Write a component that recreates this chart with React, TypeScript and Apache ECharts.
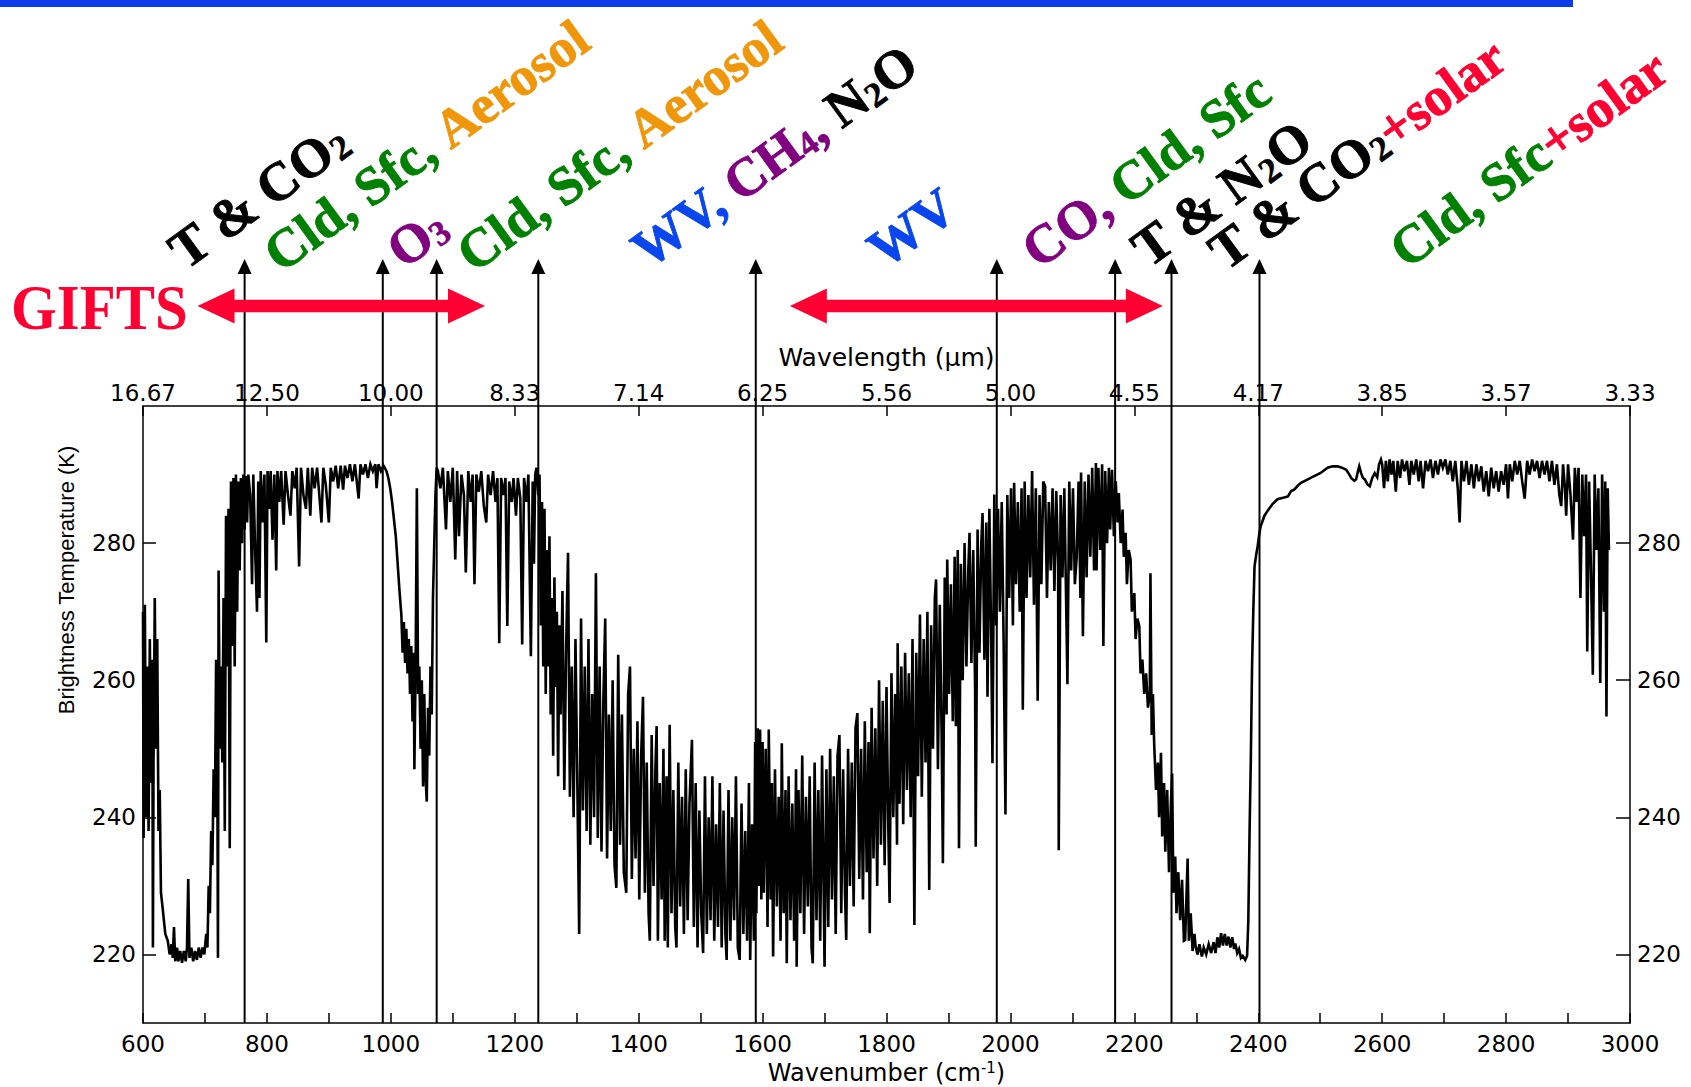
import React, { useEffect, useRef } from "react";
import * as echarts from "echarts";

// ---------- spectrum: [wavenumber (cm-1), brightness temperature (K)] ----------
const farCo2Band = [
  [600, 270], [601, 237], [603, 271], [605, 240], [607, 262], [609, 238], [611, 266], [613, 245], [615, 263], [616, 221],
  [617, 248], [619, 272], [621, 250], [623, 266], [625, 238], [627, 244], [629, 229], [632, 226.5], [636, 223], [640, 222],
  [643, 220], [646, 221.5], [648, 219.5], [650, 224], [652, 219], [655, 221], [657, 219], [660, 220.5], [663, 218.8], [666, 220.5],
  [669, 219], [671, 221], [673, 231], [675, 219.5], [678, 221], [681, 219], [684, 220.5], [687, 219.2], [690, 221], [693, 219.5],
  [696, 221], [699, 220],
];
const co2BandEdge = [
  [702, 223], [704, 221], [706, 230], [708, 226], [710, 238], [712, 233], [714, 247], [716, 240], [718, 263], [720, 246],
  [721, 219.5], [722, 276], [724, 250], [726, 262], [728, 248], [730, 272], [732, 238], [734, 284], [736, 262], [738, 285],
  [740, 235.5], [742, 289], [744, 265], [746, 289.5], [748, 262], [750, 290], [752, 270], [754, 289], [756, 276], [758, 289.5],
  [760, 280], [762, 290], [764, 282], [766, 289.8], [768, 283],
];
const longwaveWindow = [
  [770, 290], [773, 287], [776, 274], [778, 290], [781, 279], [784, 270], [786, 289], [788, 272], [790, 290.5], [793, 283],
  [796, 290], [799, 265.5], [801, 290.5], [804, 285], [806, 290.5], [809, 280.5], [812, 290], [815, 276], [817, 290.5], [820, 286],
  [823, 290.5], [827, 282.7], [830, 290.5], [834, 287], [838, 284], [841, 290.5], [845, 288], [848, 291], [852, 276.6], [855, 291],
  [859, 287], [863, 285], [866, 291], [870, 284], [873, 291], [877, 288], [881, 291], [885, 286.5], [888, 283], [891, 291],
  [895, 288.5], [900, 283], [903, 291], [907, 289], [911, 291.3], [915, 288], [919, 291.3], [923, 287.8], [926, 291.3], [930, 289.5],
  [934, 291.5], [938, 289], [942, 291.5], [948, 286.5], [951, 291.5], [955, 290], [959, 291.5], [963, 289.5], [967, 291.5], [971, 290.5],
  [975, 291.5], [977, 288], [980, 291.5], [984, 290.5], [988, 291.3],
];
const ozoneBand = [
  [990, 291], [993, 290.5], [996, 289.5], [999, 288], [1002, 286], [1005, 283.5], [1008, 281], [1011, 277], [1014, 273], [1017, 269.5],
  [1019, 264], [1021, 268.5], [1023, 262.5], [1025, 267.5], [1027, 261], [1029, 266], [1031, 258], [1033, 265], [1035, 254], [1037, 264],
  [1038, 247], [1040, 262], [1042, 288], [1044, 258], [1046, 262], [1048, 250], [1050, 260], [1052, 244.5], [1054, 258], [1056, 246],
  [1058, 242.3], [1060, 256], [1062, 249], [1064, 262], [1066, 255], [1068, 272], [1070, 279.5], [1072, 287], [1074, 291],
];
const secondWindow = [
  [1076, 290.5], [1080, 288], [1084, 291], [1089, 282], [1092, 290.5], [1096, 286], [1100, 291], [1104, 277.6], [1107, 290.5], [1110, 281],
  [1114, 290], [1118, 287], [1121, 275.7], [1125, 290.5], [1129, 286], [1132, 290], [1135, 274], [1138, 290], [1142, 287.5], [1146, 290.5],
  [1150, 285.5], [1154, 283], [1157, 290], [1161, 287], [1165, 290.5], [1169, 286], [1172, 289.5], [1175, 265.4], [1178, 289.5], [1182, 287],
  [1185, 289.5], [1188, 267.9], [1191, 289], [1195, 286], [1198, 289.5], [1202, 284], [1205, 289.5], [1209, 286.5], [1212, 265.2], [1215, 289.5],
  [1219, 286], [1222, 290], [1226, 263.5], [1229, 289], [1231, 277], [1233, 290], [1235, 291], [1238, 287],
];
const waterVaporLow = [
  [1240, 290], [1242, 268], [1244, 286], [1246, 262], [1248, 285], [1250, 258], [1252, 279], [1254, 262], [1256, 281], [1258, 255],
  [1260, 272], [1262, 249], [1264, 275], [1266, 259], [1268, 270], [1270, 246], [1272, 268], [1274, 255], [1277, 273], [1280, 244],
  [1283, 265], [1286, 278.6], [1289, 243], [1292, 262], [1295, 240], [1298, 266], [1301, 245], [1304, 223], [1307, 269], [1310, 241],
  [1313, 262], [1316, 238], [1319, 266], [1322, 236], [1325, 258], [1328, 240], [1331, 275.6], [1334, 237], [1337, 262], [1340, 235],
  [1343, 257], [1346, 269], [1349, 234], [1352, 255], [1355, 238], [1358, 260], [1361, 233], [1364, 229.7], [1367, 263.7], [1370, 236],
  [1373, 255], [1376, 232], [1380, 229], [1383, 258], [1386, 262], [1389, 231], [1392, 250], [1395, 234], [1398, 254], [1401, 228],
  [1404, 249], [1407, 257.6], [1410, 229], [1413, 248], [1416, 226], [1418, 222], [1421, 252], [1424, 230], [1427, 247], [1429, 253.3],
  [1431, 222], [1434, 245], [1437, 228], [1440, 250], [1442, 222], [1445, 246], [1447, 221], [1450, 253.5], [1453, 226], [1456, 244],
  [1459, 224], [1461, 221], [1464, 248], [1467, 227], [1470, 243], [1473, 223], [1476, 247], [1479, 225], [1482, 242], [1486, 251.3],
  [1489, 224], [1492, 245], [1495, 221], [1498, 241], [1501, 226], [1504, 220.2], [1507, 246], [1510, 223], [1513, 240], [1516, 225],
  [1519, 246], [1522, 222], [1525, 239], [1528, 224], [1531, 245], [1534, 221], [1537, 241], [1540, 223], [1542, 219.2], [1545, 244],
  [1548, 222], [1551, 240], [1554, 225], [1557, 246], [1560, 221], [1563, 219.2], [1566, 242], [1569, 223], [1572, 238], [1575, 222],
  [1578, 245], [1580, 219.2], [1583, 239], [1586, 222], [1588, 251], [1590, 226], [1592, 253], [1594, 230], [1596, 252.8], [1598, 228],
  [1600, 251],
];
const waterVaporMid = [
  [1602, 229], [1605, 250], [1608, 224], [1610, 252.8], [1613, 228], [1615, 245], [1617, 219.7], [1620, 247], [1623, 227], [1626, 243],
  [1629, 222], [1631, 250.8], [1634, 226], [1637, 244], [1639, 218.7], [1642, 246], [1645, 225], [1648, 242], [1651, 222], [1654, 247],
  [1655, 218.2], [1658, 244], [1661, 226], [1664, 249], [1667, 223], [1670, 243], [1673, 227], [1676, 246], [1679, 221], [1681, 218.7],
  [1684, 248], [1687, 225], [1690, 244], [1693, 222], [1696, 249], [1699, 226], [1700, 218.2], [1703, 247], [1706, 224], [1709, 250],
  [1712, 228], [1715, 246], [1718, 223], [1721, 249], [1724, 252], [1727, 226], [1730, 247], [1733, 229], [1735, 222.1], [1738, 250],
  [1741, 230], [1744, 248], [1747, 227], [1750, 253], [1753, 255.2], [1756, 231], [1759, 250], [1762, 228], [1765, 254], [1768, 232],
  [1771, 251], [1773, 223.1], [1776, 256], [1779, 234], [1782, 253], [1785, 230], [1788, 260], [1791, 236], [1794, 257], [1797, 233],
  [1800, 259], [1803, 238], [1805, 227.5], [1808, 261], [1811, 240], [1814, 258], [1817, 236], [1818, 265.4], [1821, 242], [1824, 262],
  [1827, 239], [1830, 264], [1833, 244], [1836, 261], [1839, 240], [1842, 266], [1845, 224.3], [1848, 264], [1851, 246], [1854, 269.6],
  [1857, 243], [1860, 266], [1863, 248], [1866, 270], [1869, 229.4], [1872, 268], [1875, 250], [1878, 272], [1880, 274.7], [1883, 247],
  [1886, 271], [1889, 252], [1891, 233.3], [1894, 275], [1897, 255], [1898, 277.6], [1901, 258], [1904, 274], [1907, 254], [1910, 278],
  [1912, 253.3], [1915, 279], [1917, 235.5], [1920, 277], [1923, 260], [1926, 280], [1929, 262], [1932, 276], [1934, 281.5], [1937, 262.5],
  [1940, 279], [1943, 259], [1944, 235.7], [1947, 282], [1950, 264], [1953, 280], [1955, 284.4], [1958, 263], [1961, 283], [1963, 257.6],
  [1966, 285], [1969, 266], [1971, 247.9], [1974, 287.1], [1977, 268], [1980, 285],
];
const waterVaporHigh = [
  [1983, 270], [1986, 286], [1989, 266], [1992, 240.4], [1995, 287], [1998, 272], [2001, 288], [2004, 268], [2006, 288.8], [2009, 274],
  [2012, 286], [2015, 270], [2018, 288], [2020, 255.7], [2023, 289], [2026, 272], [2029, 287], [2032, 275], [2035, 290.5], [2038, 271],
  [2041, 288], [2044, 257], [2047, 287], [2050, 274], [2053, 289], [2056, 288.3], [2059, 272], [2062, 286], [2065, 276], [2068, 288],
  [2071, 273], [2074, 287.6], [2077, 277], [2078, 235.2], [2081, 287], [2084, 275], [2087, 288], [2090, 271], [2092, 259.4], [2095, 289],
  [2098, 276], [2101, 288], [2104, 274], [2107, 278], [2110, 289], [2113, 272], [2114, 290.3], [2117, 266.4], [2120, 289], [2123, 275],
  [2126, 290], [2129, 278], [2132, 291], [2135, 276], [2138, 291.7], [2139, 276], [2142, 291], [2145, 279], [2148, 291.5], [2150, 265],
  [2153, 290.5], [2156, 280], [2159, 291], [2161, 282], [2164, 290.7], [2167, 281], [2170, 289], [2173, 283], [2175, 287.3], [2178, 280],
];
const co2Band43 = [
  [2181, 284.9], [2183, 278], [2186, 281.5], [2188, 274], [2191, 279], [2194, 277.6], [2196, 270], [2200, 272.7], [2202, 266], [2205, 269],
  [2208, 267.9], [2210, 261], [2213, 263], [2216, 258], [2219, 261], [2222, 256], [2225, 258.1], [2226, 275.6], [2228, 252], [2230, 258],
  [2232, 250.8], [2235, 244], [2238, 248], [2240, 240], [2243, 249.4], [2245, 237.2], [2248, 245], [2250, 235], [2253, 244], [2256, 232],
  [2259, 242], [2261, 246.4], [2263, 229], [2266, 234.3], [2268, 226], [2271, 232], [2274, 225], [2277, 230.9], [2280, 222], [2282, 222.1],
  [2284, 228], [2286, 234], [2288, 222], [2291, 226], [2294, 220.5], [2297, 223], [2299, 221.1], [2302, 220], [2305, 221.5], [2309, 219.7],
  [2312, 221], [2316, 220], [2320, 221.5], [2324, 220.2], [2328, 221.8], [2331, 220.2], [2334, 222.5], [2337, 221], [2340, 223.1], [2343, 221.3],
  [2346, 223], [2349, 221.3], [2352, 222.6], [2355, 221], [2358, 222.5], [2361, 220.8], [2363, 221.6], [2366, 220.2], [2369, 220.8], [2372, 219.5],
  [2375, 219.8], [2379, 219.2], [2382, 219.8], [2384, 225], [2386, 238], [2388, 248.4], [2390, 262], [2392, 270], [2394, 276.6], [2397, 278.5],
  [2399, 279.5], [2402, 281.5], [2404, 282.5], [2410, 284], [2415, 284.7], [2423, 285.7], [2431, 286.4], [2440, 286.6], [2448, 286.8], [2453, 287.6],
  [2458, 287.8], [2464, 288.4], [2469, 288.8], [2480, 289.3], [2491, 289.8], [2500, 290.2], [2512, 291], [2520, 291.2], [2528, 291.2], [2535, 291],
  [2542, 290.7], [2547, 290], [2550, 289.5], [2555, 289.1], [2558, 289.3], [2561, 290.5], [2563, 291.2], [2566, 290.2], [2569, 289.5], [2572, 289.3],
  [2576, 288.6], [2580, 288.3], [2584, 289.5], [2588, 290.2], [2592, 289.6], [2595, 291.5], [2598, 292.2],
];
const shortwaveWindow = [
  [2600, 291.5], [2603, 288], [2606, 292], [2609, 289], [2612, 292.2], [2615, 290], [2618, 292], [2622, 287.5], [2625, 292], [2629, 289.5],
  [2632, 292.2], [2636, 290.5], [2640, 292], [2644, 288.5], [2647, 292], [2651, 290], [2655, 292.2], [2659, 289], [2662, 292], [2666, 288],
  [2670, 292], [2674, 290.5], [2678, 292.2], [2682, 289.5], [2686, 292], [2690, 290], [2694, 292.2], [2698, 291], [2702, 292.2], [2706, 290],
  [2710, 292], [2714, 289], [2718, 292], [2722, 288], [2725, 283], [2728, 292], [2732, 289], [2736, 292], [2740, 288.5], [2744, 291.5],
  [2748, 288], [2752, 291.5], [2756, 289], [2760, 291.2], [2764, 287.5], [2768, 290.5], [2772, 286.8], [2776, 291], [2780, 288], [2784, 290.5],
  [2788, 287.5], [2792, 290.5], [2796, 288.5], [2800, 291.5], [2803, 286.5], [2806, 291.5], [2810, 289], [2814, 292], [2818, 290], [2822, 292],
  [2826, 289], [2830, 286.5], [2834, 292], [2838, 290], [2842, 292.2], [2846, 290.5], [2850, 292], [2854, 289.5], [2858, 292], [2862, 290],
  [2866, 292], [2870, 289], [2874, 292], [2878, 288.5], [2882, 291.5], [2886, 287], [2889, 285.4], [2892, 291.5], [2895, 288], [2897, 284],
  [2900, 291.5], [2904, 287], [2908, 280.5], [2911, 291], [2914, 286], [2917, 291], [2920, 272], [2923, 290], [2926, 281], [2929, 290],
  [2931, 264.2], [2934, 289], [2937, 276], [2940, 260.8], [2943, 290], [2946, 279], [2949, 288], [2952, 259.6], [2955, 290], [2958, 270],
  [2960, 289], [2962, 254.7], [2964, 288], [2966, 279],
];

// ---------- axes ----------
const wavenumberLabels = [600, 800, 1000, 1200, 1400, 1600, 1800, 2000, 2200, 2400, 2600, 2800, 3000];
const temperatureLabels = [220, 240, 260, 280];

// ---------- annotations ----------
const arrowWavenumbers = [764, 987, 1074, 1238, 1589, 1978, 2169, 2260, 2402];
const giftsBands = [[688, 1152], [1644, 2246]];
const labelParts: string[][][] = [
  [["T & CO", "k"], ["2", "ks"]],
  [["Cld, Sfc, ", "g"], ["Aerosol", "o"]],
  [["O", "p"], ["3", "ps"]],
  [["Cld, Sfc, ", "g"], ["Aerosol", "o"]],
  [["WV, ", "b"], ["CH", "p"], ["4", "ps"], [", ", "p"], ["N", "k"], ["2", "ks"], ["O", "k"]],
  [["WV", "b"]],
  [["CO, ", "p"], ["Cld, Sfc", "g"]],
  [["T & N", "k"], ["2", "ks"], ["O", "k"]],
  [["T & CO", "k"], ["2", "ks"], ["+solar", "r"]],
  [["Cld, Sfc", "g"], ["+solar", "r"]],
];
// baseline start of each rotated label (pixels)
const labelAnchors = [
  [186, 271], [281, 274], [404, 270], [474, 274], [649, 270],
  [885, 270], [1039, 270], [1149, 269], [1226, 272], [1407, 270],
];

const SERIF = "'Liberation Serif','Times New Roman',serif";
const SANS = "'DejaVu Sans','Liberation Sans',sans-serif";
const RED = "#fe0032";
const labelColors: Record<string, string> = {
  k: "#000000", g: "#008000", o: "#f0960a", p: "#800080", b: "#0a46ee", r: RED,
};
const LABEL_SIZE = 54;

function buildRich() {
  const rich: Record<string, any> = {};
  Object.keys(labelColors).forEach((key) => {
    rich[key] = {
      fill: labelColors[key], stroke: labelColors[key], lineWidth: 0.9, fontFamily: SERIF, fontWeight: "bold",
      fontSize: LABEL_SIZE, lineHeight: LABEL_SIZE, verticalAlign: "bottom",
    };
    rich[key + "s"] = {
      fill: labelColors[key], stroke: labelColors[key], lineWidth: 0.6, fontFamily: SERIF, fontWeight: "bold",
      fontSize: 35, lineHeight: 22, verticalAlign: "bottom",
    };
  });
  return rich;
}

export default function App() {
  const ref = useRef<HTMLDivElement>(null);

  useEffect(() => {
    const el = ref.current;
    if (!el) return;
    const chart = echarts.init(el, null, { renderer: "svg" });
    const spectrum = [
      ...farCo2Band, ...co2BandEdge, ...longwaveWindow, ...ozoneBand, ...secondWindow,
      ...waterVaporLow, ...waterVaporMid, ...waterVaporHigh, ...co2Band43, ...shortwaveWindow,
    ];
    const axisLine = { show: true, onZero: false, lineStyle: { color: "#000", width: 1.5 } };
    const labelStyle = { color: "#000", fontSize: 23, fontFamily: SANS };

    chart.setOption({
      animation: false,
      backgroundColor: "#ffffff",
      grid: { left: 143, right: 61, top: 406, bottom: 64, containLabel: false, outerBoundsMode: "none" },
      xAxis: [
        {
          type: "value", position: "bottom", min: 600, max: 3000, interval: 100,
          axisLine,
          axisTick: { show: true, inside: true, length: 10, lineStyle: { color: "#000", width: 1.5 } },
          axisLabel: {
            ...labelStyle, margin: 9,
            formatter: (v: number) => (wavenumberLabels.includes(v) ? String(v) : ""),
          },
          splitLine: { show: false },
          name: "Wavenumber (cm{sup|-1})", nameLocation: "middle", nameGap: 37,
          nameTextStyle: {
            color: "#000", fontSize: 24, fontFamily: SANS, lineHeight: 26,
            rich: { sup: { fontSize: 15, verticalAlign: "top", lineHeight: 14, color: "#000", fontFamily: SANS } },
          },
        },
        {
          type: "value", position: "top", min: 600, max: 3000, interval: 200,
          axisLine,
          axisTick: { show: true, inside: true, length: 10, lineStyle: { color: "#000", width: 1.5 } },
          axisLabel: { ...labelStyle, margin: 2, formatter: (v: number) => (10000 / v).toFixed(2) },
          splitLine: { show: false },
          name: "Wavelength (µm)", nameLocation: "middle", nameGap: 36,
          nameTextStyle: { color: "#000", fontSize: 25, fontFamily: SANS },
        },
      ],
      yAxis: [
        {
          type: "value", position: "left", min: 210, max: 300,
          axisLine,
          axisTick: { show: true, inside: true, length: 13, customValues: temperatureLabels, lineStyle: { color: "#000", width: 1.5 } },
          axisLabel: {
            ...labelStyle, margin: 7, customValues: temperatureLabels,
            formatter: (v: number) => (temperatureLabels.includes(v) ? String(v) : ""),
          },
          splitLine: { show: false },
        },
        {
          type: "value", position: "right", min: 210, max: 300,
          axisLine,
          axisTick: { show: true, inside: true, length: 14, customValues: temperatureLabels, lineStyle: { color: "#000", width: 1.5 } },
          axisLabel: {
            ...labelStyle, margin: 7, customValues: temperatureLabels,
            formatter: (v: number) => (temperatureLabels.includes(v) ? String(v) : ""),
          },
          splitLine: { show: false },
        },
      ],
      series: [
        {
          type: "line", xAxisIndex: 0, yAxisIndex: 0, data: spectrum,
          showSymbol: false, symbol: "none", silent: true, clip: true,
          lineStyle: { color: "#000", width: 2.6, join: "miter", miterLimit: 4 }, itemStyle: { color: "#000" },
        },
      ],
    });

    const xPix = (wn: number) => chart.convertToPixel({ xAxisIndex: 0 }, wn) as number;
    const yBottom = chart.convertToPixel({ yAxisIndex: 0 }, 210) as number;

    const elements: any[] = [];
    // blue bar at top
    elements.push({ type: "rect", silent: true, z: 90, shape: { x: 0, y: 0, width: 1573, height: 7 }, style: { fill: "#0b3ce8" } });

    // vertical arrows
    const tipY = 259;
    arrowWavenumbers.forEach((wn) => {
      const x = xPix(wn);
      elements.push({ type: "line", silent: true, z: 95, shape: { x1: x, y1: yBottom, x2: x, y2: tipY + 10 }, style: { stroke: "#000", lineWidth: 2 } });
      elements.push({ type: "polygon", silent: true, z: 95, shape: { points: [[x, tipY], [x - 7, tipY + 15], [x + 7, tipY + 15]] }, style: { fill: "#000" } });
    });

    // GIFTS double arrows
    const yc = 306, hl = 37, hh = 17.5, st = 6.3;
    giftsBands.forEach(([a, b]) => {
      const x1 = xPix(a), x2 = xPix(b);
      elements.push({
        type: "polygon", silent: true, z: 96,
        shape: {
          points: [
            [x1, yc], [x1 + hl, yc - hh], [x1 + hl, yc - st], [x2 - hl, yc - st], [x2 - hl, yc - hh],
            [x2, yc], [x2 - hl, yc + hh], [x2 - hl, yc + st], [x1 + hl, yc + st], [x1 + hl, yc + hh],
          ],
        },
        style: { fill: RED },
      });
    });

    // GIFTS text
    elements.push({
      type: "text", silent: true, z: 97, x: 11, y: 307, scaleX: 0.92,
      style: { text: "GIFTS", fontFamily: SERIF, fontWeight: "bold", fontSize: 64, fill: RED, align: "left", verticalAlign: "middle" },
    });

    // y axis title
    elements.push({
      type: "text", silent: true, z: 97, x: 66, y: 580, rotation: Math.PI / 2,
      style: { text: "Brightness Temperature (K)", fontFamily: "'Liberation Sans',sans-serif", fontSize: 22, fill: "#000", align: "center", verticalAlign: "middle" },
    });

    // rotated species labels
    const rot = (36 * Math.PI) / 180;
    const drop = LABEL_SIZE / 2 - 0.3375 * LABEL_SIZE;
    const rich = buildRich();
    labelParts.forEach((parts, i) => {
      const [sx, sy] = labelAnchors[i];
      const text = parts.map(([t, s]) => `{${s}|${t}}`).join("");
      elements.push({
        type: "text", silent: true, z: 98,
        x: sx + drop * Math.sin(rot), y: sy + drop * Math.cos(rot), rotation: rot,
        style: {
          text, rich, fill: "#000", fontFamily: SERIF, fontWeight: "bold", fontSize: LABEL_SIZE, lineHeight: LABEL_SIZE,
          align: "left", verticalAlign: "bottom",
        },
      });
    });

    chart.setOption({ graphic: { elements } });

    return () => chart.dispose();
  }, []);

  return (
    <div
      ref={ref}
      style={{ position: "fixed", left: 0, top: 0, width: 1691, height: 1087, background: "#ffffff" }}
    />
  );
}
